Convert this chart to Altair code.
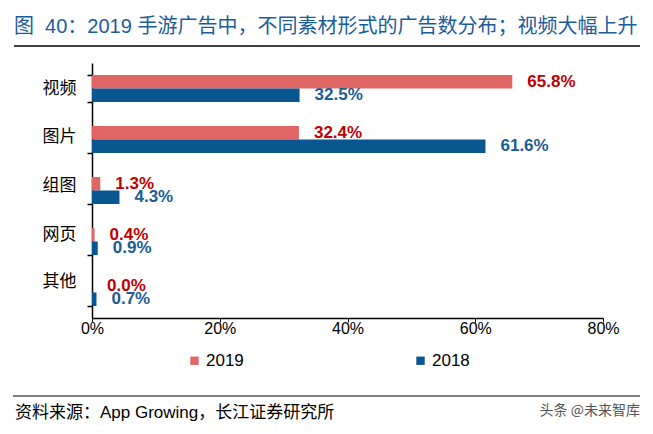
import altair as alt
import pandas as pd

categories = ["视频", "图片", "组图", "网页", "其他"]
v2019 = [65.8, 32.4, 1.3, 0.4, 0.0]
v2018 = [32.5, 61.6, 4.3, 0.9, 0.7]
series = ["2019", "2018"]
x_ticks = [0, 20, 40, 60, 80]

title_text = ["图\u00a0\u00a040：2019 手游广告中，不同素材形式的广告数分布；视频大幅上升"]
source_text = ["资料来源：App Growing，长江证券研究所"]
mark_text = ["头条 @未来智库"]

rows = []
for c, a, b in zip(categories, v2019, v2018):
    rows.append({"cat": c, "series": "2019", "value": a})
    rows.append({"cat": c, "series": "2018", "value": b})
df = pd.DataFrame(rows)

LATIN = "Liberation Sans, Noto Sans CJK SC"
CJK = "Noto Sans CJK SC"

label_offset = {
    "condition": [
        {"test": "datum.value === '视频'", "value": 0},
        {"test": "datum.value === '图片'", "value": -3},
        {"test": "datum.value === '组图'", "value": -5},
        {"test": "datum.value === '网页'", "value": -7},
    ],
    "value": -11,
}

y_enc = alt.Y(
    "cat:N",
    sort=categories,
    scale=alt.Scale(paddingInner=0.47, paddingOuter=0.235),
    axis=alt.Axis(
        title=None,
        labelFont=CJK,
        labelFontSize=17,
        labelColor="#000000",
        labelPadding=11,
        labelOffset=label_offset,
        tickSize=5,
        tickColor="#000000",
        tickWidth=1.5,
        tickBand="extent",
        domainColor="#000000",
        domainWidth=1.5,
    ),
)
yoff = alt.YOffset("series:N", sort=series, scale=alt.Scale(paddingInner=0))
x_enc = alt.X(
    "value:Q",
    scale=alt.Scale(domain=[0, 80]),
    axis=alt.Axis(
        title=None,
        values=x_ticks,
        labelExpr="datum.value + '%'",
        labelFont=LATIN,
        labelFontSize=16,
        labelColor="#000000",
        labelFlush=False,
        labelPadding=-2,
        tickSize=4,
        tickColor="#000000",
        domainColor="#000000",
        domainWidth=1.5,
        grid=False,
    ),
)

base = alt.Chart(df)

bars = base.mark_bar().encode(
    x=x_enc,
    y=y_enc,
    yOffset=yoff,
    color=alt.Color(
        "series:N",
        sort=series,
        scale=alt.Scale(domain=series, range=["#E06666", "#0A5690"]),
        legend=alt.Legend(
            title=None,
            orient="none",
            direction="horizontal",
            legendX=94,
            legendY=289,
            symbolType="square",
            symbolSize=70,
            symbolStrokeWidth=0,
            labelFont=LATIN,
            labelFontSize=17,
            labelColor="#000000",
            labelOffset=3,
            columnPadding=168,
        ),
    ),
)

labels = base.transform_calculate(
    lbl="format(datum.value, '.1f') + '%'"
).mark_text(
    align="left", baseline="middle", dx=15, font=LATIN, fontSize=17, fontWeight="bold"
).encode(
    x="value:Q",
    y=alt.Y("cat:N", sort=categories),
    yOffset=alt.YOffset("series:N", sort=series),
    text="lbl:N",
    color=alt.condition(
        alt.datum.series == "2019", alt.value("#C00000"), alt.value("#1B5C93")
    ),
)

title = alt.Chart(pd.DataFrame({"t": title_text})).mark_text(
    align="left", baseline="middle", font=LATIN, fontSize=20, color="#1C5D99"
).encode(x=alt.value(-78), y=alt.value(-36), text="t:N")

title_rule = alt.Chart(pd.DataFrame({"t": title_text})).mark_rule(
    color="#000000", strokeWidth=1.5
).encode(x=alt.value(-78), x2=alt.value(548), y=alt.value(-17))

foot_rule = alt.Chart(pd.DataFrame({"t": source_text})).mark_rule(
    color="#000000", strokeWidth=1.2
).encode(x=alt.value(-79), x2=alt.value(548), y=alt.value(333))

source = alt.Chart(pd.DataFrame({"t": source_text})).mark_text(
    align="left", baseline="middle", font=LATIN, fontSize=17, color="#000000"
).encode(x=alt.value(-77), y=alt.value(350), text="t:N")

wm = alt.Chart(pd.DataFrame({"t": mark_text})).mark_text(
    align="right", baseline="middle", font=CJK, fontSize=14, color="#555555"
).encode(x=alt.value(548), y=alt.value(348), text="t:N")

chart = (
    alt.layer(bars, labels, title, title_rule, foot_rule, source, wm)
    .properties(
        width=511,
        height=255,
        autosize=alt.AutoSizeParams(type="none"),
        padding={"left": 84, "top": 55, "right": 42, "bottom": 108},
        background="#FFFFFF",
    )
    .configure_view(stroke=None)
)

chart.save("out.html", embed_options={"renderer": "svg", "actions": False})
